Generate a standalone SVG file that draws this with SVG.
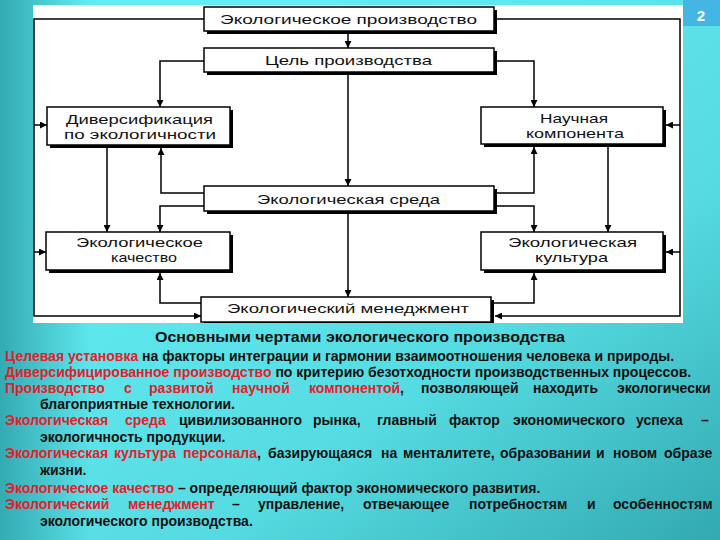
<svg xmlns="http://www.w3.org/2000/svg" width="720" height="540" viewBox="0 0 720 540">
<defs>
<linearGradient id="bg" x1="0.25" y1="0.2" x2="1" y2="1">
<stop offset="0" stop-color="#62ecf2"/>
<stop offset="0.55" stop-color="#55dce2"/>
<stop offset="1" stop-color="#33a9b1"/>
</linearGradient>
<linearGradient id="lf" x1="0" y1="0" x2="1" y2="0">
<stop offset="0" stop-color="#34aab2" stop-opacity="1"/>
<stop offset="1" stop-color="#34aab2" stop-opacity="0"/>
</linearGradient>
<marker id="ah" viewBox="0 0 8 8" refX="8" refY="4" markerWidth="7" markerHeight="7" markerUnits="userSpaceOnUse" orient="auto">
<path d="M0,0L8,4L0,8z" fill="#000"/>
</marker>
<style>
.bx{fill:#fff;stroke:#000;stroke-width:1.5}
.sh{fill:#000}
.lb{font-family:"Liberation Sans",Arial,sans-serif;font-size:13px;fill:#111}
.ln{fill:none;stroke:#000;stroke-width:1.5}
.ar{marker-end:url(#ah)}
.bt{font-family:"Liberation Sans",Arial,sans-serif;font-size:14px;font-weight:bold;fill:#111}
.r{fill:#e3202b}
</style>
</defs>
<rect width="720" height="540" fill="url(#bg)"/>
<rect width="90" height="540" fill="url(#lf)"/>
<rect x="683" y="0" width="37" height="26" fill="#44b6e4"/>
<text x="701" y="21" text-anchor="middle" font-family="Liberation Sans,Arial,sans-serif" font-size="15" font-weight="bold" fill="#fff">2</text>
<rect x="33" y="5" width="650" height="318" fill="#fff"/>

<g id="connectors">
<polyline class="ln ar" points="204,19 34,19 34,316 201,316"/>
<line class="ln ar" x1="34" y1="125" x2="47" y2="125"/>
<line class="ln ar" x1="34" y1="252" x2="46" y2="252"/>
<polyline class="ln ar" points="494,19 680,19 680,316 495,316"/>
<line class="ln ar" x1="680" y1="125" x2="666" y2="125"/>
<line class="ln ar" x1="680" y1="252" x2="666" y2="252"/>
<line class="ln ar" x1="348" y1="34" x2="348" y2="48"/>
<polyline class="ln ar" points="204,61 160,61 160,107"/>
<polyline class="ln ar" points="497,61 534,61 534,107"/>
<line class="ln ar" x1="348" y1="75" x2="348" y2="186"/>
<polyline class="ln ar" points="204,193 161,193 161,148"/>
<polyline class="ln ar" points="204,206 160,206 160,232"/>
<line class="ln ar" x1="107" y1="148" x2="107" y2="232"/>
<polyline class="ln ar" points="497,193 534,193 534,147"/>
<polyline class="ln ar" points="497,206 534,206 534,232"/>
<line class="ln ar" x1="608" y1="147" x2="608" y2="232"/>
<line class="ln ar" x1="348" y1="214" x2="348" y2="297"/>
<polyline class="ln ar" points="201,303 160,303 160,273"/>
<polyline class="ln ar" points="494,303 534,303 534,273"/>
</g>

<g id="n1"><rect class="sh" x="207" y="10" width="290" height="24"/><rect class="bx" x="204" y="7" width="290" height="24"/>
<text class="lb" x="220" y="24" font-size="14" textLength="257" lengthAdjust="spacingAndGlyphs">Экологическое производство</text></g>
<g id="n2"><rect class="sh" x="207" y="51" width="290" height="24"/><rect class="bx" x="204" y="48" width="290" height="24"/>
<text class="lb" x="265" y="65" font-size="14" textLength="167" lengthAdjust="spacingAndGlyphs">Цель производства</text></g>
<g id="n3"><rect class="sh" x="50" y="110" width="183" height="38"/><rect class="bx" x="47" y="107" width="183" height="38"/>
<text class="lb" x="66" y="124" textLength="147" lengthAdjust="spacingAndGlyphs">Диверсификация</text>
<text class="lb" x="64" y="139" textLength="152" lengthAdjust="spacingAndGlyphs">по экологичности</text></g>
<g id="n4"><rect class="sh" x="484" y="110" width="182" height="37"/><rect class="bx" x="481" y="107" width="182" height="37"/>
<text class="lb" x="540" y="123" textLength="68" lengthAdjust="spacingAndGlyphs">Научная</text>
<text class="lb" x="526" y="138" textLength="98" lengthAdjust="spacingAndGlyphs">компонента</text></g>
<g id="n5"><rect class="sh" x="207" y="189" width="290" height="25"/><rect class="bx" x="204" y="186" width="290" height="25"/>
<text class="lb" x="257" y="204" font-size="14" textLength="183" lengthAdjust="spacingAndGlyphs">Экологическая среда</text></g>
<g id="n6"><rect class="sh" x="49" y="235" width="184" height="38"/><rect class="bx" x="46" y="232" width="184" height="38"/>
<text class="lb" x="76" y="247" textLength="127" lengthAdjust="spacingAndGlyphs">Экологическое</text>
<text class="lb" x="111" y="262" textLength="66" lengthAdjust="spacingAndGlyphs">качество</text></g>
<g id="n7"><rect class="sh" x="484" y="235" width="182" height="38"/><rect class="bx" x="481" y="232" width="182" height="38"/>
<text class="lb" x="508" y="247" textLength="129" lengthAdjust="spacingAndGlyphs">Экологическая</text>
<text class="lb" x="535" y="262" textLength="73" lengthAdjust="spacingAndGlyphs">культура</text></g>
<g id="n8"><rect class="sh" x="204" y="300" width="290" height="23"/><rect class="bx" x="201" y="297" width="290" height="25"/>
<text class="lb" x="227" y="313" font-size="14" textLength="242" lengthAdjust="spacingAndGlyphs">Экологический менеджмент</text></g>

<g id="caption">
<text class="bt" x="155" y="342" textLength="410" lengthAdjust="spacingAndGlyphs">Основными чертами экологического производства</text>
<text class="bt" x="5" y="361"><tspan class="r">Целевая установка</tspan> на факторы интеграции и гармонии взаимоотношения человека и природы.</text>
<text class="bt" x="5" y="377"><tspan class="r">Диверсифицированное производство</tspan> по критерию безотходности производственных процессов.</text>
<text class="bt" y="393"><tspan class="r" x="5">Производство</tspan><tspan class="r" x="124">с</tspan><tspan class="r" x="149">развитой</tspan><tspan class="r" x="232">научной</tspan><tspan class="r" x="309">компонентой</tspan>,<tspan x="421">позволяющей</tspan><tspan x="533">находить</tspan><tspan x="617">экологически</tspan></text>
<text class="bt" x="40" y="409">благоприятные технологии.</text>
<text class="bt" y="425"><tspan class="r" x="5">Экологическая</tspan><tspan class="r" x="125">среда</tspan><tspan x="179">цивилизованного</tspan><tspan x="313">рынка,</tspan><tspan x="377">главный</tspan><tspan x="449">фактор</tspan><tspan x="513">экономического</tspan><tspan x="636">успеха</tspan><tspan x="701">–</tspan></text>
<text class="bt" x="40" y="442">экологичность продукции.</text>
<text class="bt" y="458"><tspan class="r" x="5">Экологическая</tspan><tspan class="r" x="114">культура</tspan><tspan class="r" x="183">персонала</tspan>,<tspan x="268">базирующаяся</tspan><tspan x="381">на</tspan><tspan x="403">менталитете,</tspan><tspan x="500">образовании</tspan><tspan x="596">и</tspan><tspan x="613">новом</tspan><tspan x="664">образе</tspan></text>
<text class="bt" x="40" y="475">жизни.</text>
<text class="bt" x="5" y="493"><tspan class="r">Экологическое качество</tspan> – определяющий фактор экономического развития.</text>
<text class="bt" y="509"><tspan class="r" x="5">Экологический</tspan><tspan class="r" x="128">менеджмент</tspan><tspan x="232">–</tspan><tspan x="258">управление,</tspan><tspan x="363">отвечающее</tspan><tspan x="469">потребностям</tspan><tspan x="587">и</tspan><tspan x="613">особенностям</tspan></text>
<text class="bt" x="40" y="526">экологического производства.</text>
</g>
</svg>
